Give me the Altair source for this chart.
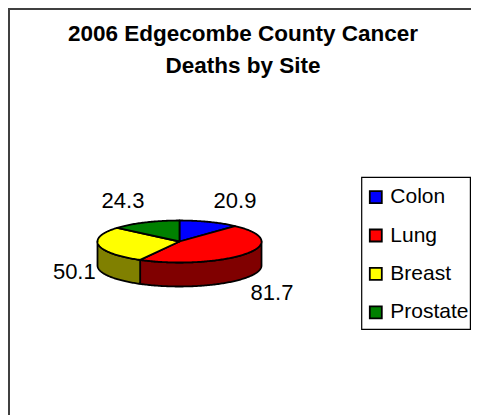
import numpy as np
import pandas as pd
import altair as alt

sites = ["Colon", "Lung", "Breast", "Prostate"]
deaths = [20.9, 81.7, 50.1, 24.3]
top_colors = ["#0000ff", "#ff0000", "#ffff00", "#008000"]
side_colors = ["#000080", "#800000", "#808000", "#004000"]
title_lines = ["2006 Edgecombe County Cancer", "Deaths by Site"]
label_text = ["20.9", "81.7", "50.1", "24.3"]

W, H = 463, 407
CX, CY, RX, RY, DEPTH = 171.5, 233.5, 82.0, 21.0, 24.0


def px(a):
    return CX + RX * np.sin(np.radians(a))


def py(a):
    return CY - RY * np.cos(np.radians(a))


total = sum(deaths)
edges = np.concatenate([[0], np.cumsum(deaths)]) / total * 360

top_rows, side_rows = [], []
for k, site in enumerate(sites):
    a0, a1 = edges[k], edges[k + 1]
    arc = np.linspace(a0, a1, max(2, int(a1 - a0) + 2))
    top_rows.append(dict(site=site, i=0, x=CX, y=CY))
    for j, a in enumerate(arc):
        top_rows.append(dict(site=site, i=j + 1, x=px(a), y=py(a)))
    lo, hi = max(a0, 90), min(a1, 270)
    if hi > lo:
        arc = np.linspace(lo, hi, int(hi - lo) + 2)
        n = 0
        for a in arc:
            side_rows.append(dict(site=site, i=n, x=px(a), y=py(a)))
            n += 1
        for a in arc[::-1]:
            side_rows.append(dict(site=site, i=n, x=px(a), y=py(a) + DEPTH))
            n += 1

x_scale = alt.Scale(domain=[0, W], range=[0, W])
y_scale = alt.Scale(domain=[0, H], range=[0, H])
X = alt.X("x:Q", scale=x_scale, axis=None)
Y = alt.Y("y:Q", scale=y_scale, axis=None)

line_style = dict(interpolate="linear-closed", stroke="black", strokeWidth=1.8, strokeJoin="round")

sides = alt.Chart(pd.DataFrame(side_rows)).mark_line(**line_style).encode(
    x=X, y=Y, order="i:Q",
    fill=alt.Fill("site:N", scale=alt.Scale(domain=sites, range=side_colors), legend=None),
    detail="site:N",
)

tops = alt.Chart(pd.DataFrame(top_rows)).mark_line(**line_style).encode(
    x=X, y=Y, order="i:Q",
    fill=alt.Fill(
        "site:N",
        sort=sites,
        scale=alt.Scale(domain=sites, range=top_colors),
        legend=alt.Legend(
            title=None,
            orient="none",
            legendX=357.3,
            legendY=178.6,
            symbolType="square",
            symbolSize=144,
            symbolStrokeColor="black",
            symbolStrokeWidth=1.8,
            labelFont="Liberation Sans",
            labelFontSize=21,
            labelColor="black",
            labelOffset=4,
            labelLimit=200,
            rowPadding=16.4,
            padding=0,
        ),
    ),
    detail="site:N",
)

labels = alt.Chart(pd.DataFrame({
    "text": label_text,
    "x": [227, 264, 66.3, 115],
    "y": [192.7, 284.7, 263.7, 192.7],
})).mark_text(font="Liberation Sans", fontSize=22, color="black", align="center", baseline="middle").encode(
    x=X, y=Y, text="text:N"
)

frame_top = alt.Chart().mark_rule(color="#404040", strokeWidth=2).encode(
    x=alt.value(0), x2=alt.value(W), y=alt.value(1)
)
frame_left = alt.Chart().mark_rule(color="#404040", strokeWidth=2).encode(
    x=alt.value(1), y=alt.value(0), y2=alt.value(H)
)
legend_box = alt.Chart().mark_rect(fill="white", stroke="black", strokeWidth=1.2).encode(
    x=alt.value(353.7), x2=alt.value(462.4), y=alt.value(169.3), y2=alt.value(321.3)
)

chart = alt.layer(frame_top, frame_left, legend_box, sides, tops, labels).resolve_scale(fill="independent").properties(
    width=W,
    height=H,
    padding=0,
    autosize=alt.AutoSizeParams(type="none"),
    title=alt.TitleParams(
        text=title_lines,
        anchor="middle",
        font="Liberation Sans",
        fontSize=22.5,
        fontWeight="bold",
        color="black",
        lineHeight=32,
        baseline="top",
        offset=0,
        dx=3.5,
        dy=70,
    ),
).configure_view(stroke=None)

chart.save("out.html", embed_options={"renderer": "svg", "actions": False})
